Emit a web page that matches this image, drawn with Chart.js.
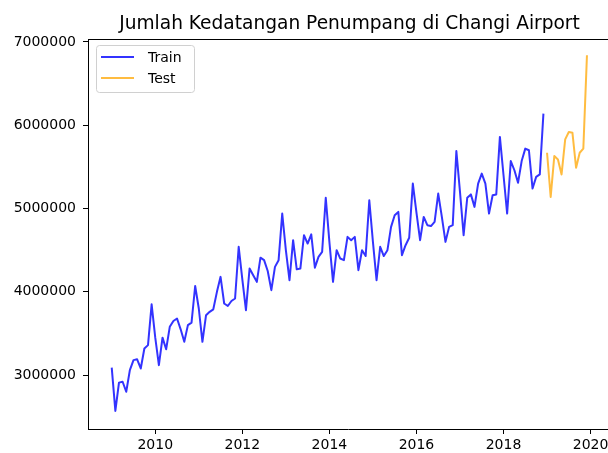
<!DOCTYPE html>
<html>
<head>
<meta charset="utf-8">
<script src="https://cdn.jsdelivr.net/npm/chart.js@4.4.1/dist/chart.umd.min.js"></script>
<style>
  html, body { margin: 0; padding: 0; background: #fff; }
</style>
</head>
<body>
<canvas id="myChart" width="608" height="453"></canvas>
<script>
const title = 'Jumlah Kedatangan Penumpang di Changi Airport';

// monthly series, first month of each
const trainStart = [2009, 1];
const testStart = [2019, 1];

const trainValues = [
  3090000, 2570000, 2910000, 2920000, 2800000, 3060000, 3180000, 3190000, 3080000, 3320000, 3360000, 3850000,
  3450000, 3120000, 3450000, 3310000, 3580000, 3650000, 3680000, 3550000, 3400000, 3600000, 3630000, 4070000,
  3800000, 3400000, 3720000, 3760000, 3790000, 4000000, 4180000, 3860000, 3830000, 3890000, 3920000, 4540000,
  4150000, 3780000, 4280000, 4200000, 4120000, 4410000, 4380000, 4250000, 4020000, 4300000, 4380000, 4940000,
  4500000, 4140000, 4620000, 4270000, 4280000, 4680000, 4580000, 4690000, 4290000, 4420000, 4480000, 5130000,
  4600000, 4120000, 4500000, 4400000, 4380000, 4660000, 4620000, 4660000, 4260000, 4500000, 4430000, 5100000,
  4600000, 4140000, 4540000, 4430000, 4500000, 4780000, 4920000, 4960000, 4440000, 4560000, 4650000, 5300000,
  4950000, 4620000, 4900000, 4800000, 4790000, 4840000, 5180000, 4900000, 4600000, 4780000, 4800000, 5690000,
  5200000, 4680000, 5130000, 5170000, 5020000, 5300000, 5420000, 5300000, 4940000, 5160000, 5170000, 5860000,
  5400000, 4940000, 5570000, 5460000, 5310000, 5570000, 5720000, 5700000, 5240000, 5380000, 5410000, 6140000
];

const testValues = [
  5670000, 5140000, 5630000, 5590000, 5410000, 5830000, 5920000, 5910000, 5490000, 5670000, 5720000, 6840000
];

const xTicks = [2010, 2012, 2014, 2016, 2018, 2020];
const yTicks = [3000000, 4000000, 5000000, 6000000, 7000000];

// month index -> fractional year (like matplotlib dates)
function toPoints(start, values) {
  return values.map((v, i) => {
    const m = start[1] - 1 + i;
    return { x: start[0] + m / 12, y: v };
  });
}

const font = { family: 'DejaVu Sans', size: 14 };

const frame = {
  id: 'frame',
  afterDraw(chart) {
    const { ctx, chartArea } = chart;
    ctx.save();
    // top spine
    ctx.strokeStyle = '#000';
    ctx.lineWidth = 1;
    ctx.beginPath();
    ctx.moveTo(chartArea.left, chartArea.top + 0.5);
    ctx.lineTo(chartArea.right, chartArea.top + 0.5);
    ctx.stroke();

    // title
    ctx.fillStyle = '#000';
    ctx.font = '18.6px "DejaVu Sans"';
    ctx.textAlign = 'center';
    ctx.textBaseline = 'alphabetic';
    ctx.fillText(title, 349.5, 29);

    // legend box
    const bx = chartArea.left + 8, by = chartArea.top + 6, bw = 98, bh = 47;
    ctx.beginPath();
    ctx.roundRect(bx + 0.5, by + 0.5, bw, bh, 3);
    ctx.fillStyle = 'rgba(255,255,255,0.8)';
    ctx.fill();
    ctx.strokeStyle = '#d0d0d0';
    ctx.stroke();
    chart.data.datasets.forEach((ds, i) => {
      const y = by + 12 + i * 21;
      ctx.strokeStyle = ds.borderColor;
      ctx.lineWidth = 2;
      ctx.beginPath();
      ctx.moveTo(bx + 5, y);
      ctx.lineTo(bx + 38, y);
      ctx.stroke();
      ctx.fillStyle = '#000';
      ctx.font = '14px "DejaVu Sans"';
      ctx.textAlign = 'left';
      ctx.textBaseline = 'middle';
      ctx.fillText(ds.label, bx + 52, y + 1);
    });
    ctx.restore();
  }
};

const config = {
  type: 'line',
  data: {
    datasets: [{
      label: 'Train',
      data: toPoints(trainStart, trainValues),
      borderColor: 'rgba(0, 0, 255, 0.8)',
      borderWidth: 2,
      pointRadius: 0,
      tension: 0,
      borderJoinStyle: 'round'
    }, {
      label: 'Test',
      data: toPoints(testStart, testValues),
      borderColor: 'rgba(255, 165, 0, 0.75)',
      borderWidth: 2,
      pointRadius: 0,
      tension: 0,
      borderJoinStyle: 'round'
    }]
  },
  options: {
    responsive: false,
    animation: false,
    devicePixelRatio: 1,
    layout: { autoPadding: false, padding: { top: 39, left: 0, right: 0, bottom: 0 } },
    plugins: {
      legend: { display: false },
      title: { display: false },
      tooltip: { enabled: false }
    },
    scales: {
      x: {
        type: 'linear',
        min: 2008.455,
        max: 2020.40,
        afterBuildTicks: s => { s.ticks = xTicks.map(v => ({ value: v })); },
        afterFit: s => { s.height = 24; s.paddingLeft = 0; s.paddingRight = 0; },
        ticks: {
          autoSkip: false, maxRotation: 0, padding: 3,
          color: '#000', font: font,
          callback: v => String(v)
        },
        grid: { display: true, drawOnChartArea: false, drawTicks: true, tickLength: 5, tickColor: '#000' },
        border: { display: true, color: '#000', width: 1 }
      },
      y: {
        type: 'linear',
        min: 2353000,
        max: 7036000,
        afterBuildTicks: s => { s.ticks = yTicks.map(v => ({ value: v })); },
        afterFit: s => { s.width = 88; s.paddingTop = 0; s.paddingBottom = 0; },
        ticks: {
          autoSkip: false, padding: 7,
          color: '#000', font: font,
          callback: v => String(v)
        },
        grid: { display: true, drawOnChartArea: false, drawTicks: true, tickLength: 5, tickColor: '#000' },
        border: { display: true, color: '#000', width: 1 }
      }
    }
  },
  plugins: [frame]
};

const myChart = new Chart(document.getElementById('myChart'), config);
</script>
</body>
</html>
